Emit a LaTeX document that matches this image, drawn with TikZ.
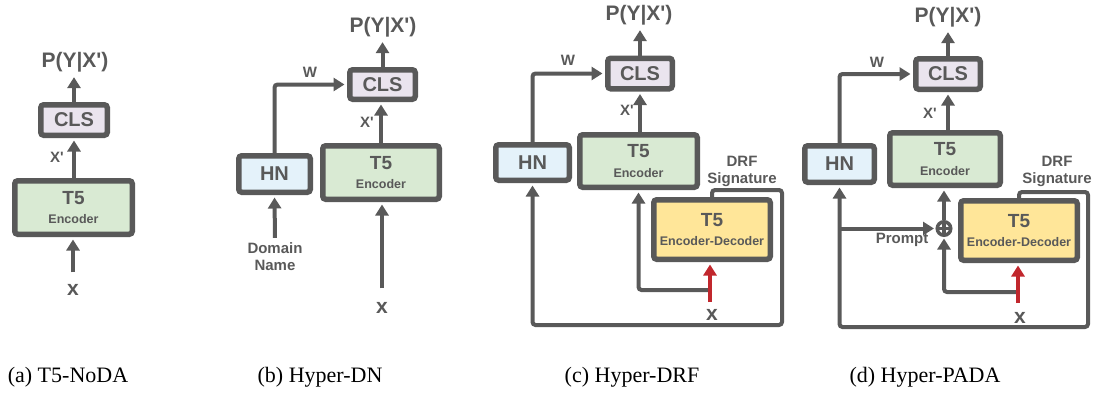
\documentclass[tikz,border=0pt]{standalone}
\usepackage{fontspec}
\setmainfont{Liberation Serif}
\newfontfamily\diafont[Ligatures=TeXOff]{Liberation Sans}
\usetikzlibrary{arrows.meta}
\definecolor{dg}{HTML}{595959}
\definecolor{clsfill}{HTML}{EAE4EE}
\definecolor{encfill}{HTML}{D9EAD3}
\definecolor{hnfill}{HTML}{E4F2FA}
\definecolor{edfill}{HTML}{FFE699}
\definecolor{redar}{HTML}{C1272D}
\newcommand\tfive[2]{{\fontsize{19}{19}\selectfont T5}\\[#2]{\fontsize{12.5}{13}\selectfont #1}}
\begin{document}
\begin{tikzpicture}[x=1pt,y=-1pt,
  box/.style={draw=dg, line width=5.5pt, rounded corners=3pt, inner sep=0pt, text=dg,
    font=\diafont\bfseries\fontsize{20}{22}\selectfont, align=center},
  conn/.style={draw=dg, line width=4pt, rounded corners=3pt, shorten >=2.5pt,
    -{Triangle[length=11pt,width=13pt]}},
  redconn/.style={draw=redar, line width=4pt, shorten >=2.5pt,
    -{Triangle[length=11pt,width=13pt]}},
  lbl/.style={text=dg, font=\diafont\bfseries\fontsize{15}{17}\selectfont, inner sep=1pt, align=center},
  big/.style={text=dg, font=\diafont\bfseries\fontsize{21}{23}\selectfont, inner sep=1pt},
  captxt/.style={font=\fontsize{22}{24}\selectfont, inner sep=0pt},
  opl/.style={circle, draw=dg, fill=white, line width=3.5pt, minimum size=13.5pt, inner sep=0pt,
    path picture={\draw[dg, line width=3.5pt] (path picture bounding box.north) -- (path picture bounding box.south)
      (path picture bounding box.west) -- (path picture bounding box.east);}}
]
\useasboundingbox (0,0) rectangle (1095,394);

% ---------------- (a)
\node[box, fill=clsfill, minimum width=66.5pt, minimum height=30.5pt] (a-cls) at (74,120) {CLS};
\node[box, fill=encfill, minimum width=117.5pt, minimum height=53.5pt] (a-t5) at (73.5,207.5) {\tfive{Encoder}{-2.5pt}};
\node[big] (a-p) at (75,62) {P(Y|X')};
\node[lbl] (a-xp) at (57,157) {X'};
\node[big] (a-x) at (73,290) {x};
\draw[conn, shorten >=4pt] (a-cls.north) -- (a-cls.north |- a-p.south);
\draw[conn] (a-t5.north -| a-cls) -- (a-cls.south);
\draw[conn, shorten <=11pt] (a-x.north) -- (a-x.north |- a-t5.south);
\node[captxt] (a-cap) at (68,377) {(a) T5-NoDA};

% ---------------- (b)
\node[box, fill=clsfill, minimum width=65.5pt, minimum height=29.5pt] (b-cls) at (382.5,84.5) {CLS};
\node[box, fill=hnfill, minimum width=71.5pt, minimum height=36.5pt] (b-hn) at (274.5,174) {HN};
\node[box, fill=encfill, minimum width=116.5pt, minimum height=53.5pt] (b-t5) at (381,172.5) {\tfive{Encoder}{-2.5pt}};
\node[big] (b-p) at (383,27) {P(Y|X')};
\node[lbl] (b-w) at (310,72) {W};
\node[lbl] (b-xp) at (367,122) {X'};
\node[lbl] (b-dn) at (275,257) {Domain\\Name};
\node[big] (b-x) at (382,308) {x};
\draw[conn, shorten >=4pt] (b-cls.north) -- (b-cls.north |- b-p.south);
\draw[conn] (b-hn.north) |- (b-cls.west);
\draw[conn] (b-t5.north) -- (b-t5.north |- b-cls.south);
\draw[conn, shorten <=4pt] (b-dn.north) -- (b-hn.south);
\draw[conn, shorten <=13pt] (b-x.north) -- (b-x.north |- b-t5.south);
\node[captxt] (b-cap) at (320,377) {(b) Hyper-DN};

% ---------------- (c)
\node[box, fill=clsfill, minimum width=64.5pt, minimum height=30.5pt] (c-cls) at (640,73.5) {CLS};
\node[box, fill=hnfill, minimum width=73.5pt, minimum height=35.5pt] (c-hn) at (532.5,162.5) {HN};
\node[box, fill=encfill, minimum width=117.5pt, minimum height=52.5pt] (c-t5) at (638.5,161) {\tfive{Encoder}{-2.5pt}};
\node[box, fill=edfill, minimum width=116.5pt, minimum height=59.5pt] (c-ed) at (712,229.5) {\tfive{Encoder-Decoder}{-3pt}};
\node[big] (c-p) at (639,15) {P(Y|X')};
\node[lbl] (c-w) at (568,60) {W};
\node[lbl] (c-xp) at (627,110) {X'};
\node[lbl] (c-drf) at (742,171) {DRF\\Signature};
\node[big] (c-x) at (712,315) {x};
\coordinate (c-r1) at (782,190);
\coordinate (c-r2) at (782,325);
\coordinate (c-xs) at (710,302);
\coordinate (c-j) at (710,290);
\draw[conn, shorten >=4pt] (c-cls.north) -- (c-cls.north |- c-p.south);
\draw[conn] (c-hn.north) |- (c-cls.west);
\draw[conn] (c-t5.north -| c-cls) -- (c-cls.south);
\draw[conn] (c-ed.north) |- (c-r1) -- (c-r2) -| (c-hn.south);
\draw[conn] (c-j) -| (c-t5.south);
\draw[redconn] (c-xs) -- (c-xs |- c-ed.south);
\node[captxt] (c-cap) at (632,377) {(c) Hyper-DRF};

% ---------------- (d)
\node[box, fill=clsfill, minimum width=64.5pt, minimum height=30.5pt] (d-cls) at (948,74) {CLS};
\node[box, fill=hnfill, minimum width=69.5pt, minimum height=36.5pt] (d-hn) at (839.5,164) {HN};
\node[box, fill=encfill, minimum width=110.5pt, minimum height=52.5pt] (d-t5) at (945,159) {\tfive{Encoder}{-2.5pt}};
\node[box, fill=edfill, minimum width=116.5pt, minimum height=59.5pt] (d-ed) at (1019,230.5) {\tfive{Encoder-Decoder}{-3pt}};
\node[opl] (d-op) at (944,228.5) {};
\node[big] (d-p) at (948,17) {P(Y|X')};
\node[lbl] (d-w) at (877,62) {W};
\node[lbl] (d-xp) at (930,113) {X'};
\node[lbl] (d-drf) at (1057,171) {DRF\\Signature};
\node[lbl] (d-pr) at (902,240) {Prompt};
\node[big] (d-x) at (1020,318) {x};
\coordinate (d-r1) at (1088,192);
\coordinate (d-r2) at (1088,327);
\coordinate (d-pj) at (840,228.5);
\coordinate (d-xs) at (1018,303);
\coordinate (d-j) at (1018,292);
\draw[conn, shorten >=4pt] (d-cls.north) -- (d-cls.north |- d-p.south);
\draw[conn] (d-hn.north) |- (d-cls.west);
\draw[conn] (d-t5.north -| d-cls) -- (d-cls.south);
\draw[conn] (d-ed.north) |- (d-r1) -- (d-r2) -| (d-hn.south);
\draw[conn, shorten >=1.5pt] (d-pj) -- (d-op.west);
\draw[conn] (d-op.north) -- (d-op.north |- d-t5.south);
\draw[conn, shorten >=1.5pt] (d-j) -| (d-op.south);
\draw[redconn] (d-xs) -- (d-xs |- d-ed.south);
\node[captxt] (d-cap) at (925,377) {(d) Hyper-PADA};
\end{tikzpicture}
\end{document}
